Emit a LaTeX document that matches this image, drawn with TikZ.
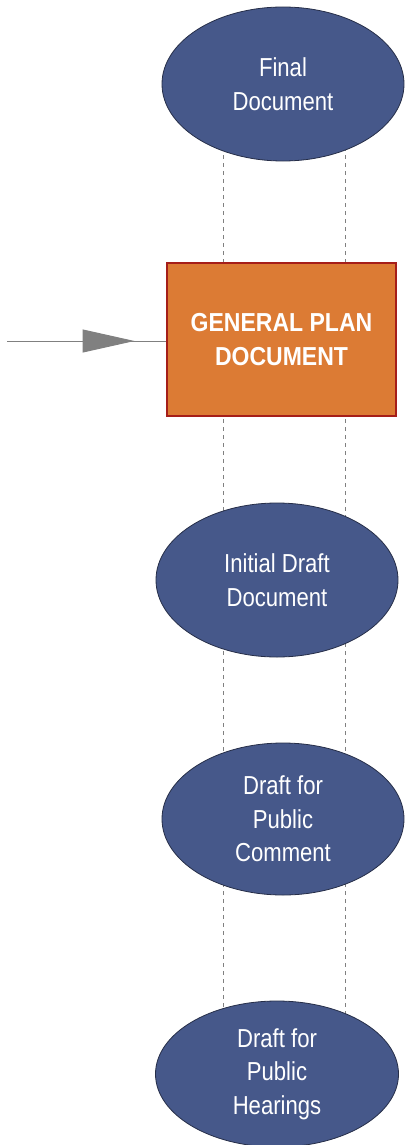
\documentclass[tikz,border=0pt]{standalone}
\usepackage{fontspec}
\setmainfont{Liberation Sans}
\newfontfamily\narrowfont{Liberation Sans}[FakeStretch=0.85]
\newfontfamily\boldnarrow{Liberation Sans}[FakeStretch=0.885]
\usetikzlibrary{shapes.geometric,arrows.meta,decorations.markings,backgrounds}
\definecolor{ellfill}{RGB}{70,88,138}
\definecolor{elldraw}{RGB}{38,46,72}
\definecolor{boxfill}{RGB}{220,123,52}
\definecolor{boxdraw}{RGB}{165,30,25}
\definecolor{linegray}{RGB}{128,128,128}
\tikzset{
  stage/.style={ellipse, draw=elldraw, line width=0.8pt, fill=ellfill, inner sep=0pt,
    minimum width=242pt, minimum height=154pt, text=white, align=center,
    font=\narrowfont\fontsize{26}{33.5}\selectfont},
  mainbox/.style={rectangle, draw=boxdraw, line width=1.2pt, fill=boxfill, inner sep=0pt,
    minimum width=229pt, minimum height=153pt, text=white, align=center,
    font=\boldnarrow\bfseries\fontsize{26}{34}\selectfont},
  guide/.style={draw=linegray, line width=0.7pt, dash pattern=on 4pt off 4pt},
  inflow/.style={draw=linegray, line width=1pt,
    postaction={decorate, decoration={markings,
      mark=at position 0.8 with {\arrow[linegray]{Triangle[length=52pt,width=23pt]}}}}}
}
\begin{document}
\begin{tikzpicture}[x=1pt,y=-1pt]
\useasboundingbox (0,0) rectangle (404,1145);
\node[stage] (fin) at (283,84) {Final\\Document};
\node[mainbox] (gp) at (281.5,339.5) {GENERAL PLAN\\DOCUMENT};
\node[stage] (ini) at (277,580) {Initial Draft\\Document};
\node[stage, minimum height=152pt] (com) at (283,819) {Draft for\\Public\\Comment};
\node[stage, minimum width=243pt, minimum height=146pt] (hear) at (277,1074) {Draft for\\Public\\Hearings};
\coordinate (src) at (7,341);
\coordinate (gl1) at (223,83);
\coordinate (gl2) at (223,1073);
\coordinate (gr1) at (345,83);
\coordinate (gr2) at (345,1073);
\begin{pgfonlayer}{background}
\draw[guide] (gl1) -- (gl2);
\draw[guide] (gr1) -- (gr2);
\end{pgfonlayer}
\draw[inflow] (src) -- (src -| gp.west);
\end{tikzpicture}
\end{document}
